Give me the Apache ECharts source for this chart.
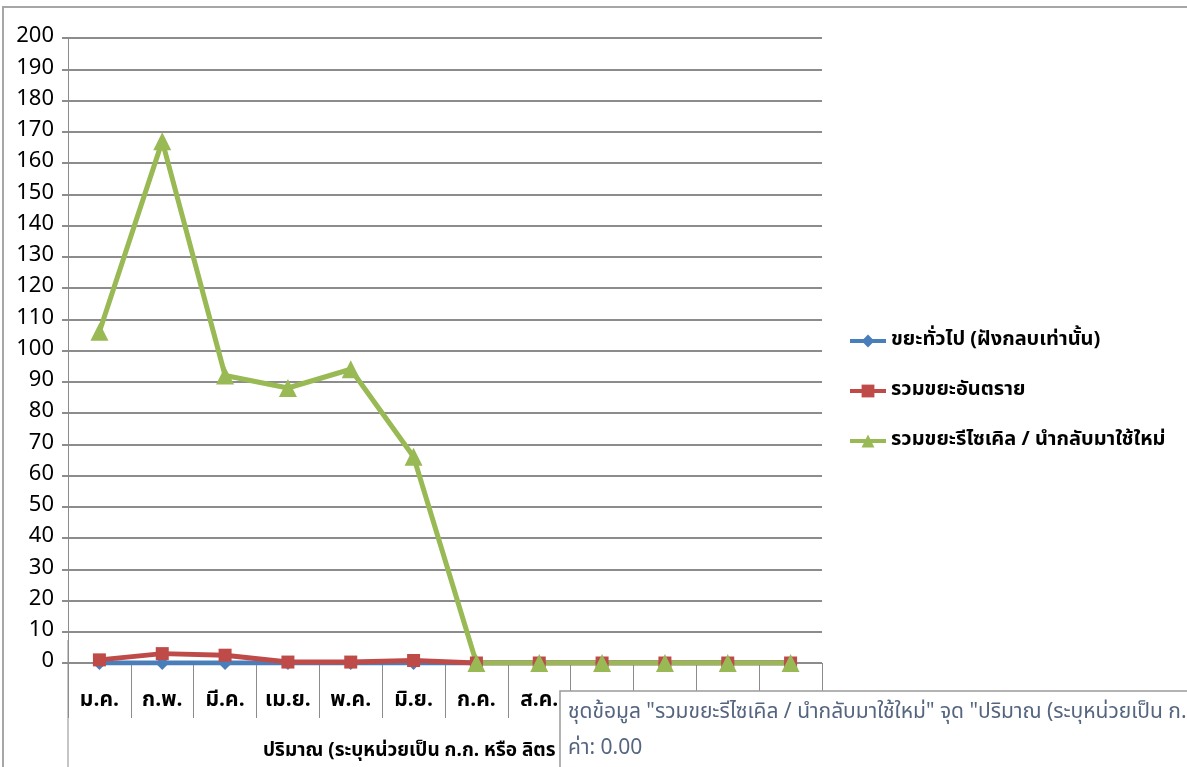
<!DOCTYPE html>
<html>
<head>
<meta charset="utf-8">
<title>ปริมาณขยะ</title>
<script src="https://cdn.jsdelivr.net/npm/echarts@6/dist/echarts.min.js"></script>
<style>
    html, body { margin: 0; padding: 0; background: #fff; overflow: hidden; }
    #main { width: 1187px; height: 767px; }
</style>
</head>
<body>
<div id="main"></div>
<script>
    // month labels (Thai abbreviations)
    var months = ['ม.ค.', 'ก.พ.', 'มี.ค.', 'เม.ย.', 'พ.ค.', 'มิ.ย.', 'ก.ค.', 'ส.ค.', 'ก.ย.', 'ต.ค.', 'พ.ย.', 'ธ.ค.'];

    var seriesNames = ['ขยะทั่วไป (ฝังกลบเท่านั้น)', 'รวมขยะอันตราย', 'รวมขยะรีไซเคิล / นำกลับมาใช้ใหม่'];

    var generalWaste   = [0, 0, 0, 0, 0, 0, 0, 0, 0, 0, 0, 0];
    var hazardousWaste = [1, 3, 2.5, 0.3, 0.3, 0.8, 0, 0, 0, 0, 0, 0];
    var recycleWaste   = [106, 167, 92, 88, 94, 66, 0, 0, 0, 0, 0, 0];

    var axisName = 'ปริมาณ (ระบุหน่วยเป็น ก.ก. หรือ ลิตร )';
    var tipLine1 = 'ชุดข้อมูล "รวมขยะรีไซเคิล / นำกลับมาใช้ใหม่" จุด "ปริมาณ (ระบุหน่วยเป็น ก.ก. หรือ ลิตร )"';
    var tipLine2 = 'ค่า: 0.00';

    var FONT = "'Noto Sans Thai', 'Noto Sans', sans-serif";
    var GRID = { left: 68, right: 365, top: 38, bottom: 100 };

    var chart = echarts.init(document.getElementById('main'));

    chart.setOption({
        backgroundColor: '#fff',
        animation: false,
        grid: GRID,
        legend: {
            orient: 'vertical',
            left: 843,
            top: 326,
            itemGap: 30,
            itemWidth: 36,
            itemHeight: 16,
            lineStyle: { width: 4 },
            textStyle: { fontFamily: FONT, fontSize: 20, fontWeight: 'bold', color: '#000' },
            data: seriesNames
        },
        xAxis: {
            type: 'category',
            data: months,
            boundaryGap: true,
            axisLine: { lineStyle: { color: '#8c8c8c', width: 1 } },
            axisTick: { show: true, length: 55, lineStyle: { color: '#8c8c8c', width: 1 } },
            axisLabel: { fontFamily: FONT, fontSize: 21, fontWeight: 'bold', color: '#000', margin: 28 },
            name: axisName,
            nameLocation: 'middle',
            nameGap: 80,
            nameTextStyle: { fontFamily: FONT, fontSize: 19, fontWeight: 'bold', color: '#000', padding: [0, 60, 0, 0] }
        },
        yAxis: {
            type: 'value',
            min: 0,
            max: 200,
            interval: 10,
            axisLine: { show: true, lineStyle: { color: '#8c8c8c', width: 1 } },
            axisTick: { show: true, length: 6, lineStyle: { color: '#8c8c8c', width: 2 } },
            axisLabel: { fontFamily: FONT, fontSize: 22, color: '#000', margin: 14 },
            splitLine: { lineStyle: { color: '#8c8c8c', width: 2 } }
        },
        series: [
            {
                name: seriesNames[0],
                type: 'line',
                data: generalWaste,
                symbol: 'diamond',
                symbolSize: 14,
                color: '#4a7ebb',
                lineStyle: { width: 5 }
            },
            {
                name: seriesNames[1],
                type: 'line',
                data: hazardousWaste,
                symbol: 'rect',
                symbolSize: 13,
                color: '#be4b48',
                lineStyle: { width: 5 }
            },
            {
                name: seriesNames[2],
                type: 'line',
                data: recycleWaste,
                symbol: 'triangle',
                symbolSize: 18,
                color: '#98b954',
                lineStyle: { width: 5 }
            }
        ],
        graphic: [
            // outer chart frame
            {
                type: 'rect',
                shape: { x: 3, y: 7, width: 1250, height: 800 },
                style: { fill: null, stroke: '#a6a6a6', lineWidth: 2 },
                silent: true
            },
            // left axis continues down through the label boxes
            {
                type: 'line',
                shape: { x1: GRID.left, y1: 640, x2: GRID.left, y2: 800 },
                style: { stroke: '#8c8c8c', lineWidth: 1 },
                silent: true
            },
            // hover tooltip box (as seen in the source screenshot), drawn over the axis labels
            {
                type: 'rect',
                zlevel: 1,
                shape: { x: 560, y: 691, width: 700, height: 100 },
                style: { fill: '#fff', stroke: '#9a9a9a', lineWidth: 1.5 }
            },
            {
                type: 'text',
                zlevel: 1,
                z: 101,
                x: 568,
                y: 703,
                style: { text: tipLine1, fontFamily: FONT, fontSize: 21, fill: '#55657f' }
            },
            {
                type: 'text',
                zlevel: 1,
                z: 101,
                x: 568,
                y: 739,
                style: { text: tipLine2, fontFamily: FONT, fontSize: 21, fill: '#55657f' }
            }
        ]
    });
</script>
</body>
</html>
